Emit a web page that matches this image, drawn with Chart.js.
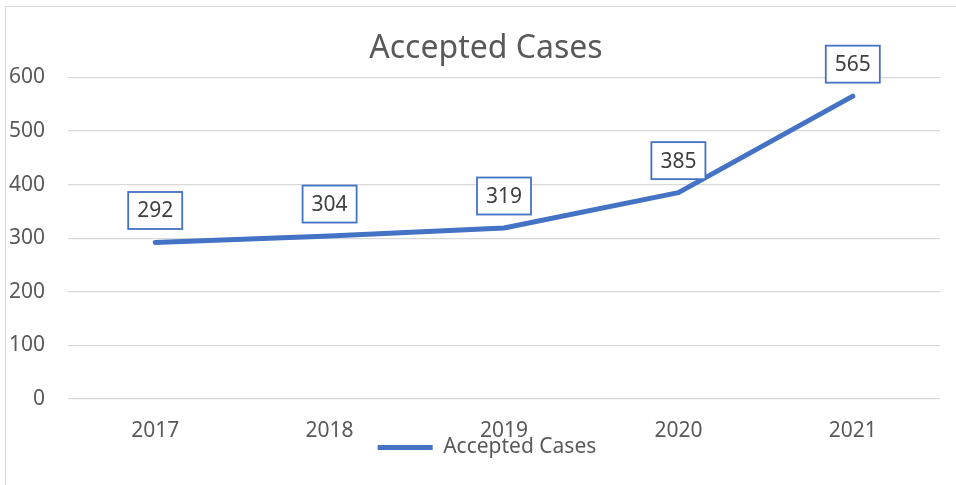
<!DOCTYPE html>
<html>
<head>
<meta charset="utf-8">
<script src="https://cdn.jsdelivr.net/npm/chart.js@4.4.0/dist/chart.umd.min.js"></script>
<style>
  html, body { margin: 0; padding: 0; background: #fff; overflow: hidden; }
  .frame {
    position: absolute; left: 5px; top: 6px;
    width: 970px; height: 500px;
    border: 1.5px solid #d9d9d9;
  }
  canvas { position: absolute; left: 0; top: 0; }
</style>
</head>
<body>
<div class="frame"></div>
<canvas id="chart" width="956" height="485"></canvas>
<script>
const years = ['2017', '2018', '2019', '2020', '2021'];
const acceptedCases = [292, 304, 319, 385, 565];
const yTicks = [0, 100, 200, 300, 400, 500, 600];

const blue = '#4472C4';
const grey = '#595959';
const font = 'Noto Sans';

// boxed value labels above each point
const boxedLabels = {
  id: 'boxedLabels',
  afterDatasetsDraw(chart) {
    const ctx = chart.ctx;
    const meta = chart.getDatasetMeta(0);
    ctx.save();
    ctx.font = '21px "' + font + '"';
    ctx.textAlign = 'center';
    ctx.textBaseline = 'middle';
    meta.data.forEach((pt, i) => {
      const txt = String(chart.data.datasets[0].data[i]);
      const w = ctx.measureText(txt).width + 18;
      const h = 37;
      const cx = pt.x, cy = pt.y - 32;
      ctx.fillStyle = '#fff';
      ctx.fillRect(cx - w / 2, cy - h / 2, w, h);
      ctx.strokeStyle = blue;
      ctx.lineWidth = 1.8;
      ctx.strokeRect(cx - w / 2, cy - h / 2, w, h);
      ctx.fillStyle = '#404040';
      ctx.fillText(txt, cx, cy + 1);
    });
    ctx.restore();
  }
};

// the frame is centred on the outer border, not the canvas: nudge title and
// legend right, and pull the legend up under the axis labels like excel does
const nudge = {
  id: 'nudge',
  afterLayout(chart) {
    chart.titleBlock.left += 32;
    chart.legend.left += 34;
    chart.legend.top -= 17;
  }
};

new Chart(document.getElementById('chart'), {
  type: 'line',
  data: {
    labels: years,
    datasets: [{
      label: 'Accepted Cases',
      data: acceptedCases,
      borderColor: blue,
      backgroundColor: blue,
      borderWidth: 5,
      borderCapStyle: 'round',
      borderJoinStyle: 'round',
      pointRadius: 0,
      tension: 0
    }]
  },
  options: {
    responsive: false,
    animation: false,
    layout: { padding: { left: 0, right: 16, top: 0, bottom: 0 } },
    plugins: {
      title: {
        display: true,
        text: 'Accepted Cases',
        color: grey,
        font: { family: font, size: 32, weight: 'normal' },
        padding: { top: 30, bottom: 9 }
      },
      legend: {
        position: 'bottom',
        labels: {
          color: grey,
          font: { family: font, size: 21 },
          boxWidth: 55,
          boxHeight: 5,
          padding: 10,
          generateLabels(chart) {
            return Chart.defaults.plugins.legend.labels.generateLabels(chart)
              .map(item => ({ ...item, lineWidth: 0, fillStyle: blue }));
          }
        }
      },
      tooltip: { enabled: false }
    },
    scales: {
      x: {
        offset: true,
        grid: { display: false, drawTicks: false },
        border: { display: false },
        ticks: { color: grey, font: { family: font, size: 21 }, padding: 19 },
        afterFit(scale) { scale.height = 45; }
      },
      y: {
        min: yTicks[0],
        max: yTicks[yTicks.length - 1],
        afterBuildTicks(scale) { scale.ticks = yTicks.map(v => ({ value: v })); },
        grid: { color: '#d9d9d9', lineWidth: 1.3, drawTicks: false },
        border: { display: false },
        ticks: { color: grey, font: { family: font, size: 21 }, padding: 23 },
        afterFit(scale) { scale.width = 68; }
      }
    }
  },
  plugins: [boxedLabels, nudge]
});
</script>
</body>
</html>
